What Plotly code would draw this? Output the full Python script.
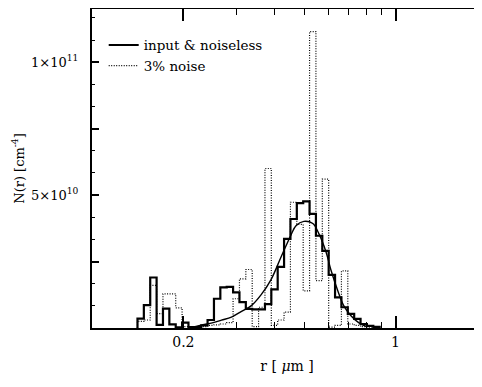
import numpy as np
import plotly.graph_objects as go

# ---- data ----
# log-spaced bin grid (radius in micrometres)
bin_start = 0.1412
bin_logwidth = 0.021
n_bins = 38

# input & noiseless reconstruction (units of 1e10 cm^-4)
noiseless = [0.35, 0.86, 1.9, 0.12, 0.73, 0.14, 0.02, 0.2, 0.03, 0.03,
             0.1, 0.3, 1.1, 1.53, 1.55, 1.34, 0.97, 0.72, 0.7, 0.7,
             0.9, 1.45, 2.3, 3.35, 4.1, 4.7, 4.76, 4.29, 3.47, 2.9,
             2.0, 1.15, 0.78, 0.53, 0.34, 0.15, 0.08, 0.04]

# 3% noise reconstruction (units of 1e10 cm^-4)
noise3 = [0.25, 0.3, 1.6, 0.54, 1.28, 1.28, 0.76, 0.05, 0.02, 0.03,
          0.05, 0.1, 0.12, 0.15, 0.2, 1.1, 1.85, 2.2, 0.05, 0.78,
          6.0, 0.1, 0.3, 0.6, 4.73, 3.9, 1.4, 11.15, 1.78, 5.6,
          0.03, 0.1, 2.15, 0.15, 0.1, 0.05, 0.03, 0.02]

# input distribution (smooth curve)
curve_r = [0.208, 0.229, 0.247, 0.267, 0.288, 0.310, 0.335, 0.361, 0.389,
           0.420, 0.453, 0.470, 0.499, 0.534, 0.559, 0.590, 0.612, 0.645,
           0.675, 0.712, 0.756, 0.803]
curve_n = [0.0, 0.109, 0.184, 0.297, 0.41, 0.617, 0.842, 1.256, 1.82,
           2.68, 3.51, 3.85, 4.01, 3.93, 3.55, 2.87, 2.20, 1.41,
           0.84, 0.47, 0.20, 0.05]

scale = 1e10
y_tickvals = [0, 2.5e10, 5e10, 7.5e10, 1e11]
y_ticktext = ["", "", "5×10<sup>10</sup>", "", "1×10<sup>11</sup>"]
x_tickvals = [0.2, 1]
x_ticktext = ["0.2", "1"]
x_minor = [0.1, 0.3, 0.4, 0.5, 0.6, 0.7, 0.8, 0.9, 2]

edges = bin_start * 10 ** (bin_logwidth * np.arange(n_bins + 1))


def steps(vals):
    v = np.array(vals) * scale
    x = np.concatenate([[edges[0]], edges])
    y = np.concatenate([[0], v, [0]])
    return x, y


fig = go.Figure()
xs, ys = steps(noise3)
fig.add_trace(go.Scatter(x=xs, y=ys, mode="lines", line_shape="hv",
                         line=dict(color="black", width=1.2, dash="1px,1.5px"),
                         name="3% noise"))
xs, ys = steps(noiseless)
fig.add_trace(go.Scatter(x=xs, y=ys, mode="lines", line_shape="hv",
                         line=dict(color="black", width=2.2),
                         name="input & noiseless"))
fig.add_trace(go.Scatter(x=curve_r, y=np.array(curve_n) * scale, mode="lines",
                         line_shape="spline",
                         line=dict(color="black", width=1.4),
                         showlegend=False))

FAM = "DejaVu Serif"
font = dict(family=FAM, color="black")
fig.update_layout(
    width=474, height=379,
    margin=dict(l=84, r=0, t=1, b=59, autoexpand=False),
    plot_bgcolor="white", paper_bgcolor="white",
    font=dict(size=14, **font),
    showlegend=True,
    legend=dict(x=0.03, y=0.935, xanchor="left", yanchor="top",
                bgcolor="rgba(0,0,0,0)", font=dict(size=13.5, **font),
                traceorder="reversed", itemwidth=30, tracegroupgap=0),
    xaxis=dict(type="log", range=[-1.0, 0.285], automargin=False,
               tickvals=x_tickvals, ticktext=x_ticktext,
               ticks="inside", ticklen=12, tickwidth=1.5, tickcolor="black",
               minor=dict(tickvals=x_minor, ticks="inside", ticklen=6,
                          tickwidth=1.2, tickcolor="black"),
               showline=True, linecolor="black", linewidth=2, mirror="ticks",
               showgrid=False, zeroline=False,
               tickfont=dict(size=14, **font),
               title=dict(text="r [ <i>μ</i>m ]", font=dict(size=14, **font),
                          standoff=12)),
    yaxis=dict(range=[0, 1.2e11], tickvals=y_tickvals, ticktext=y_ticktext,
               automargin=False,
               ticks="inside", ticklen=7, tickwidth=1.5, tickcolor="black",
               minor=dict(dtick=2.5e10 / 3, ticks="inside", ticklen=3,
                          tickwidth=1, tickcolor="black"),
               showline=True, linecolor="black", linewidth=2, mirror="ticks",
               showgrid=False, zeroline=False,
               tickfont=dict(size=13, **font), ticklabelstandoff=9,
               title=dict(text="N(r) [cm<sup>-4</sup>]",
                          font=dict(size=13, **font), standoff=4)),
    yaxis2=dict(range=[0, 1.2e11], overlaying="y", anchor="x", side="left",
                automargin=False,
                tickvals=y_tickvals[1:], ticks="outside", ticklen=5,
                tickwidth=1.5, tickcolor="black", showticklabels=False,
                showline=False, showgrid=False, zeroline=False),
)

fig.write_html("out.html")
